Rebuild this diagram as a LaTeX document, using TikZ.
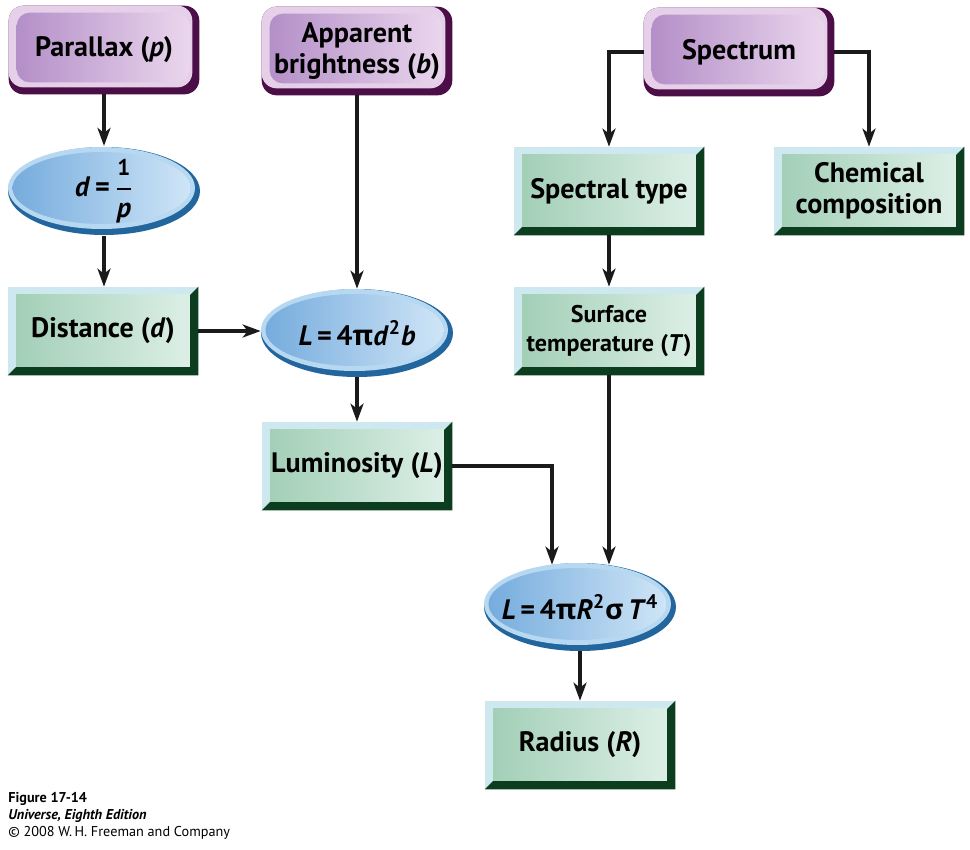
\documentclass[tikz,border=0pt]{standalone}
\usepackage{amsmath}
\usepackage{fontspec}
\setmainfont{PT Sans}
\newfontfamily\grk{Open Sans}
\usetikzlibrary{calc,backgrounds,shapes.geometric,arrows.meta}

\definecolor{bevlight}{HTML}{CDE8EE}
\definecolor{bevdark}{HTML}{0B3D1E}
\definecolor{greenleft}{HTML}{A3CFB7}
\definecolor{greenright}{HTML}{DCEFE6}
\definecolor{capdark}{HTML}{4B0E46}
\definecolor{caplight}{HTML}{E6CFE8}
\definecolor{capleft}{HTML}{B48FC8}
\definecolor{capright}{HTML}{EAD6ED}
\definecolor{ovaldark}{HTML}{23669E}
\definecolor{ovallight}{HTML}{B7D8F1}
\definecolor{ovalleft}{HTML}{76ACDD}
\definecolor{ovalright}{HTML}{CFE5F7}
\definecolor{linecol}{HTML}{1A1A1A}

\tikzset{
  base/.style={font=\fontsize{16}{17.5}\selectfont\bfseries, align=center, inner sep=0pt,
    minimum width=3.8cm, minimum height=1.76cm},
  capbox/.style={base, rectangle},
  greenbox/.style={base, rectangle},
  oval/.style={base, ellipse, minimum width=3.84cm},
  caption/.style={font=\fontsize{8.1}{9.8}\selectfont, align=left, inner sep=0pt, anchor=north west},
  link/.style={line width=2.2pt, draw=linecol, -{Stealth[length=3.6mm, width=2.6mm, inset=1mm]}}
}

\def\bevelbox(#1){
  \fill[bevlight] (#1.south west) rectangle (#1.north east);
  \fill[bevdark] (#1.south west) -- (#1.south east) -- (#1.north east)
    -- ($(#1.north east)+(-0.17cm,-0.17cm)$) -- ($(#1.south east)+(-0.17cm,0.17cm)$)
    -- ($(#1.south west)+(0.17cm,0.17cm)$) -- cycle;
  \shade[left color=greenleft, right color=greenright]
    ($(#1.south west)+(0.17cm,0.17cm)$) rectangle ($(#1.north east)+(-0.17cm,-0.15cm)$);
}
\def\capshape(#1){
  \fill[capdark, rounded corners=0.3cm] (#1.south west) rectangle (#1.north east);
  \fill[caplight, rounded corners=0.3cm] ($(#1.south west)+(0,0.14cm)$) rectangle ($(#1.north east)+(-0.14cm,0)$);
  \shade[left color=capleft, right color=capright, rounded corners=0.26cm]
    ($(#1.south west)+(0.16cm,0.24cm)$) rectangle ($(#1.north east)+(-0.2cm,-0.14cm)$);
}
\def\ovalshape(#1){
  \fill[ovaldark] (#1) ellipse [x radius=1.92cm, y radius=0.88cm];
  \fill[ovallight] ($(#1)+(-0.05cm,0.06cm)$) ellipse [x radius=1.87cm, y radius=0.82cm];
  \shade[left color=ovalleft, right color=ovalright] ($(#1)+(-0.05cm,0.06cm)$) ellipse [x radius=1.78cm, y radius=0.72cm];
}

\begin{document}
\begin{tikzpicture}[x=0.02cm, y=-0.02cm]
  \useasboundingbox (0,0) rectangle (970,849);
  %%%%% TOP ROW %%%%%
  \node[capbox] (par) at (104,50) {Parallax (\textit{p})};
  \node[capbox] (app) at (357,51) {Apparent\\brightness (\textit{b})};
  \node[capbox] (spec) at (739,52) {Spectrum};

  %%%%% LEFT BRANCH %%%%%
  \node[oval] (dfrm) at (104,191) {\textit{d}\,=\,$\genfrac{}{}{1.2pt}{0}{\mbox{\fontsize{13}{13}\selectfont 1}}{\mbox{\itshape p}}$};
  \node[greenbox] (dist) at (103,331) {Distance (\textit{d})};
  \node[oval] (lfrm) at (357,333) {\textit{L}\,=\,4{\grk π}\textit{d}\textsuperscript{2}\textit{b}};
  \node[greenbox] (lum) at (357,466) {Luminosity (\textit{L})};

  %%%%% RIGHT BRANCH %%%%%
  \node[greenbox] (stype) at (609,191) {Spectral type};
  \node[greenbox] (chem) at (869,191) {Chemical\\composition};
  \node[greenbox, font=\fontsize{13.7}{16}\selectfont\bfseries] (temp) at (609,331) {Surface\\temperature (\textit{T})};
  \node[oval] (rfrm) at (580,607) {\textit{L}\,=\,4{\grk π}\textit{R}\textsuperscript{2}{\grk σ}\,\textit{T}\textsuperscript{4}};
  \node[greenbox] (rad) at (580,745) {Radius (\textit{R})};

  \node[caption] (fig) at (8,792) {\textbf{Figure 17-14}\\\textbf{\textit{Universe, Eighth Edition}}\\© 2008 W.\,H. Freeman and Company};

  \begin{scope}[on background layer]
    \foreach \n in {par,app,spec} {\capshape(\n)}
    \foreach \n in {dfrm,lfrm,rfrm} {\ovalshape(\n)}
    \foreach \n in {dist,lum,stype,chem,temp,rad} {\bevelbox(\n)}
  \end{scope}

  %%%%% ARROWS %%%%%
  \draw[link] (par.south) -- (dfrm.north);
  \draw[link] (dfrm.south) -- (dist.north -| dfrm.south);
  \draw[link] (app.south) -- (lfrm.north);
  \draw[link] (dist.east) -- (dist.east -| lfrm.west);
  \draw[link] (lfrm.south) -- (lum.north);
  \draw[link] (spec.west) -| (stype.north);
  \draw[link] (spec.east) -| (chem.north);
  \draw[link] (stype.south) -- (temp.north);
  \draw[link] (temp.south) -- ($(temp.south |- rfrm.north)+(0,2)$);
  \draw[link] (lum.east) -| ($(rfrm.north)+(-28,2)$);
  \draw[link] (rfrm.south) -- (rad.north);
\end{tikzpicture}
\end{document}
